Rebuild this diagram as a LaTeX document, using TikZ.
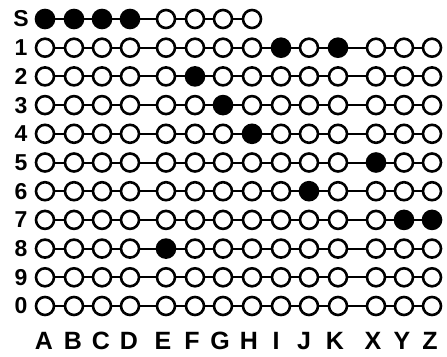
\documentclass[tikz,border=0pt]{standalone}
\usepackage{fontspec}
\setmainfont{Liberation Sans}
\foreach \r/\c in {0/A,0/B,0/C,0/D,1/I,1/K,2/F,3/G,4/H,5/X,6/J,7/Y,7/Z,8/E}{\expandafter\gdef\csname pf\r\c\endcsname{}}
\begin{document}
\begin{tikzpicture}[x=1pt,y=-1pt,
  hole/.style={circle,draw,line width=2.6pt,minimum size=18pt,inner sep=0pt,fill=white},
  punched/.style={hole,fill=black},
  link/.style={line width=2pt},
  rowlab/.style={inner sep=0pt,font=\bfseries\fontsize{23}{23}\selectfont},
  collab/.style={inner sep=0pt,font=\bfseries\fontsize{25}{25}\selectfont}]
\useasboundingbox[fill=white] (0,0) rectangle (447,356);
\foreach \lab [count=\i from 0] in {S,1,2,3,4,5,6,7,8,9,0}{
  \pgfmathsetmacro\yy{19+28.7*\i}
  \node[rowlab] (lab-\i) at (21,\yy) {\lab};
  \ifnum\i=0
    \def\collist{A/45,B/74,C/102,D/130,E/166,F/195,G/223,H/252}
    \def\linklist{A/B,B/C,C/D,D/E,E/F,F/G,G/H}
  \else
    \def\collist{A/45,B/74,C/102,D/130,E/166,F/195,G/223,H/252,I/281,J/309,K/338,X/376,Y/404,Z/432}
    \def\linklist{A/B,B/C,C/D,D/E,E/F,F/G,G/H,H/I,I/J,J/K,K/X,X/Y,Y/Z}
  \fi
  \foreach \c/\xx in \collist {
    \ifcsname pf\i\c\endcsname \def\st{punched}\else \def\st{hole}\fi
    \node[\st] (n-\i-\c) at (\xx,\yy) {};
  }
  \foreach \a/\b in \linklist {
    \draw[link] (n-\i-\a) -- (n-\i-\b);
  }
}
\foreach \c/\xx in {A/44,B/73,C/101,D/129,E/163,F/192,G/220,H/249,I/276,J/304,K/335,X/373,Y/402,Z/430}{
  \node[collab] (col-\c) at (\xx,341) {\c};
}
\end{tikzpicture}
\end{document}
